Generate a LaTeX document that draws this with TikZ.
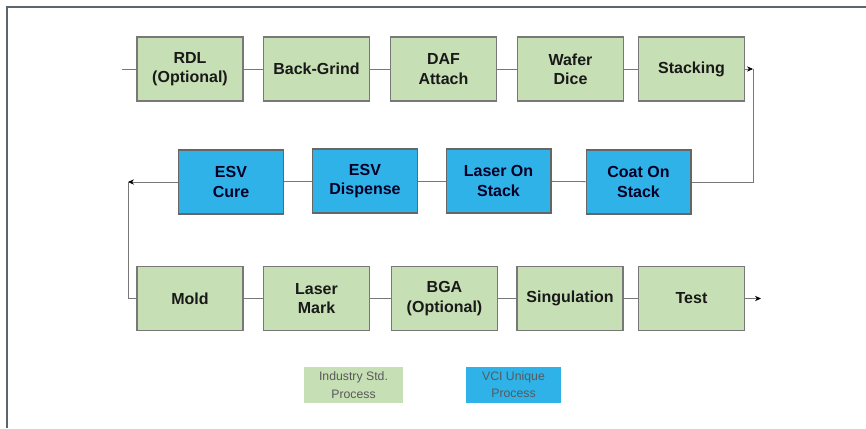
\documentclass[tikz,border=0pt]{standalone}
\usepackage{fontspec}
\setmainfont{Liberation Sans}
\usetikzlibrary{arrows.meta}

\definecolor{stdgreen}{RGB}{198,223,180}
\definecolor{vciblue}{RGB}{47,178,231}
\definecolor{framegray}{RGB}{92,100,110}
\definecolor{linegray}{RGB}{120,120,120}

\begin{document}
\begin{tikzpicture}[x=0.75pt,y=-0.75pt,
        stdbox/.style={draw=linegray,line width=1pt,fill=stdgreen,minimum width=79.5pt,minimum height=48pt,
            align=center,font=\bfseries\fontsize{12}{14.5}\selectfont,text=black!90},
        vcibox/.style={stdbox,draw=black!60,fill=vciblue,minimum width=78.5pt,text=black!85!blue},
        keybox/.style={minimum height=27pt,align=center,font=\fontsize{9.2}{13}\selectfont,text=black!65},
        link/.style={draw=linegray,line width=0.6pt},
        tip/.style={-{Stealth[length=4.5pt,width=4pt,black]},draw=linegray,line width=0.6pt}]
    \useasboundingbox (0,0) rectangle (866,428);

    % frame, only top and left edges show
    \draw[framegray,line width=1.6pt] (7,428) -- (7,7) -- (866,7);

    % top row
    \node[stdbox] (rdl) at (190,69) {RDL\\(Optional)};
    \node[stdbox] (grind) at (316.5,69) {Back-Grind};
    \node[stdbox] (daf) at (443.5,69) {DAF\\Attach};
    \node[stdbox] (dice) at (570.5,69) {Wafer\\Dice};
    \node[stdbox] (stack) at (691.5,69) {Stacking};

    % middle row, VCI steps
    \node[vcibox] (cure) at (231,182) {ESV\\Cure};
    \node[vcibox] (dispense) at (365,181) {ESV\\Dispense};
    \node[vcibox] (laser) at (498.5,181) {Laser On\\Stack};
    \node[vcibox] (coat) at (638.5,182) {Coat On\\Stack};

    % bottom row
    \node[stdbox] (mold) at (190,298.5) {Mold};
    \node[stdbox] (mark) at (316.5,298.5) {Laser\\Mark};
    \node[stdbox] (bga) at (444.5,298.5) {BGA\\(Optional)};
    \node[stdbox] (sing) at (570,298.5) {Singulation};
    \node[stdbox] (test) at (691.5,298.5) {Test};

    % corner points of the return lines
    \coordinate (start) at (122,69);
    \coordinate (turnR) at (753,69);
    \coordinate (turnL) at (128,182);
    \coordinate (finish) at (761,298.5);

    \draw[link] (start) -- (rdl);
    \draw[link] (rdl) -- (grind);
    \draw[link] (grind) -- (daf);
    \draw[link] (daf) -- (dice);
    \draw[link] (dice) -- (stack);
    \draw[tip] (stack) -- (turnR);
    \draw[link] (coat.east) -| (turnR);

    \draw[link] (coat) -- (laser);
    \draw[link] (laser) -- (dispense);
    \draw[link] (dispense) -- (cure);
    \draw[tip] (cure) -- (turnL);
    \draw[link] (turnL) |- (mold.west);

    \draw[link] (mold) -- (mark);
    \draw[link] (mark) -- (bga);
    \draw[link] (bga) -- (sing);
    \draw[link] (sing) -- (test);
    \draw[tip] (test) -- (finish);

    % key
    \node[keybox,fill=stdgreen,minimum width=74pt] (keystd) at (353.5,385) {Industry Std.\\Process};
    \node[keybox,fill=vciblue,minimum width=71pt] (keyvci) at (513.5,384.5) {VCI Unique\\Process};
\end{tikzpicture}
\end{document}
